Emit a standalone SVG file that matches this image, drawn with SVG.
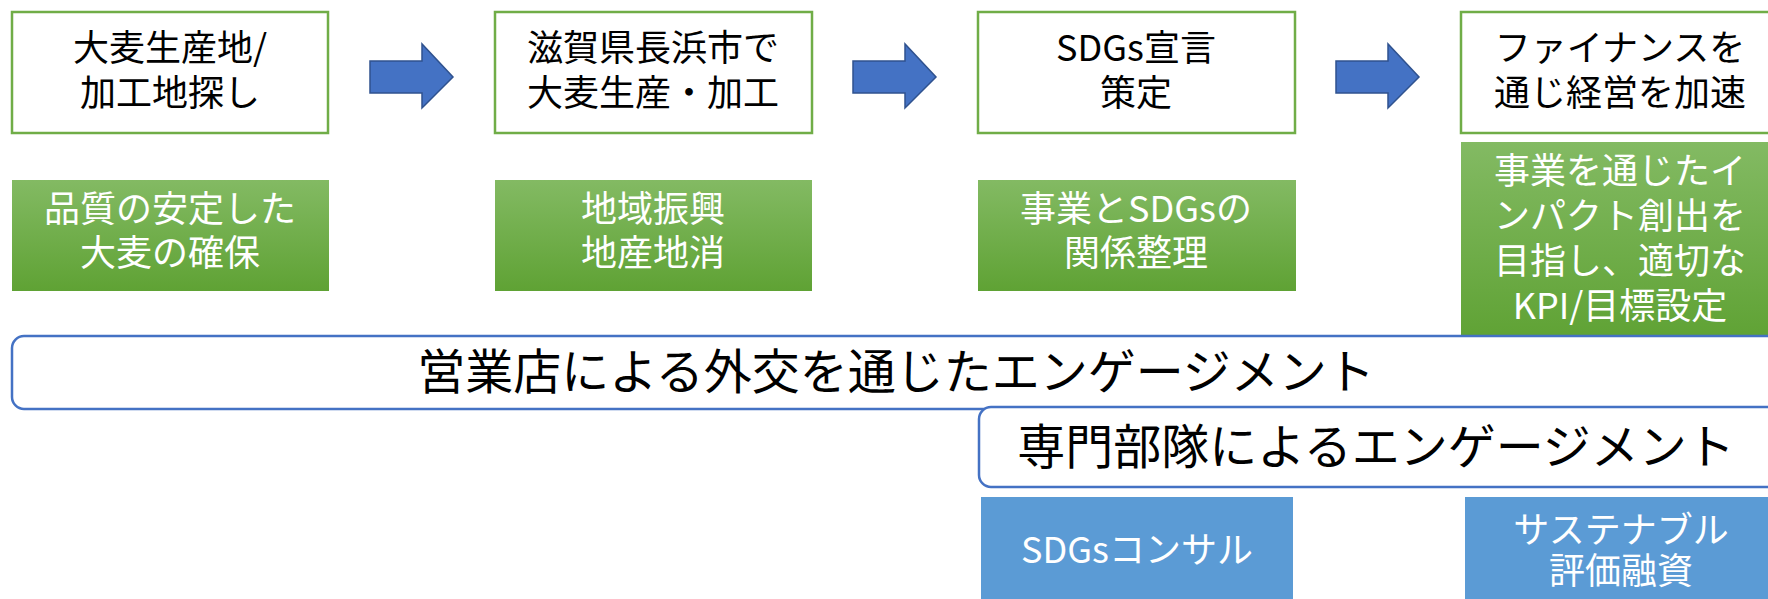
<svg xmlns="http://www.w3.org/2000/svg" width="1768" height="599" viewBox="0 0 1768 599">
<defs>
<linearGradient id="gg" x1="0" y1="0" x2="0" y2="1">
<stop offset="0" stop-color="#83BA63"/>
<stop offset="1" stop-color="#5FA234"/>
</linearGradient>
<style>
.t{font-family:"Noto Sans CJK JP","Noto Sans CJK SC",sans-serif;text-anchor:middle;dominant-baseline:central}
.box{fill:#FFFFFF;stroke:#70AD47;stroke-width:2.5}
.grn{fill:url(#gg)}
.blu{fill:#5B9BD5}
.rr{fill:#FFFFFF;stroke:#4472C4;stroke-width:2.5}
.arr{fill:#4472C4;stroke:#2F528F;stroke-width:1.5}
.dk{fill:#000000;font-size:36px}
.wh{fill:#FFFFFF;font-size:36px}
.big{fill:#000000;font-size:48px}
</style>
</defs>
<rect width="1768" height="599" fill="#FFFFFF"/>

<g id="step1">
<rect class="box" x="12" y="12" width="316" height="121"/>
<text class="t dk" x="170" y="45">大麦生産地/</text>
<text class="t dk" x="170" y="90">加工地探し</text>
</g>
<g id="step2">
<rect class="box" x="495" y="12" width="317" height="121"/>
<text class="t dk" x="653" y="45">滋賀県長浜市で</text>
<text class="t dk" x="653" y="90">大麦生産・加工</text>
</g>
<g id="step3">
<rect class="box" x="978" y="12" width="317" height="121"/>
<text class="t dk" x="1136" y="45">SDGs宣言</text>
<text class="t dk" x="1136" y="90">策定</text>
</g>
<g id="step4">
<rect class="box" x="1461" y="12" width="330" height="121"/>
<text class="t dk" x="1620" y="45">ファイナンスを</text>
<text class="t dk" x="1620" y="90">通じ経営を加速</text>
</g>

<g id="goal1">
<rect class="grn" x="12" y="180" width="317" height="111"/>
<text class="t wh" x="170" y="206">品質の安定した</text>
<text class="t wh" x="170" y="250">大麦の確保</text>
</g>
<g id="goal2">
<rect class="grn" x="495" y="180" width="317" height="111"/>
<text class="t wh" x="653" y="206">地域振興</text>
<text class="t wh" x="653" y="250">地産地消</text>
</g>
<g id="goal3">
<rect class="grn" x="978" y="180" width="318" height="111"/>
<text class="t wh" x="1136" y="206">事業とSDGsの</text>
<text class="t wh" x="1136" y="250">関係整理</text>
</g>
<g id="goal4">
<rect class="grn" x="1461" y="142" width="330" height="199"/>
<text class="t wh" x="1620" y="168">事業を通じたイ</text>
<text class="t wh" x="1620" y="213">ンパクト創出を</text>
<text class="t wh" x="1620" y="258">目指し、適切な</text>
<text class="t wh" x="1620" y="303">KPI/目標設定</text>
</g>

<g id="engagement1">
<rect class="rr" x="12" y="336" width="1800" height="73" rx="12" ry="12"/>
<text class="t big" x="896" y="368">営業店による外交を通じたエンゲージメント</text>
</g>
<g id="engagement2">
<rect class="rr" x="979" y="407" width="820" height="80" rx="12" ry="12"/>
<text class="t big" x="1376" y="443">専門部隊によるエンゲージメント</text>
</g>

<g id="consul">
<rect class="blu" x="981" y="497" width="312" height="110"/>
<text class="t wh" x="1137" y="547">SDGsコンサル</text>
</g>
<g id="sustainable">
<rect class="blu" x="1465" y="497" width="312" height="110"/>
<text class="t wh" x="1621" y="527">サステナブル</text>
<text class="t wh" x="1621" y="568">評価融資</text>
</g>

<g id="connectors">
<polygon class="arr" points="370,61 422,61 422,44 453,77 422,108 422,93 370,93"/>
<polygon class="arr" points="853,61 905,61 905,44 936,77 905,108 905,93 853,93"/>
<polygon class="arr" points="1336,61 1388,61 1388,44 1419,77 1388,108 1388,93 1336,93"/>
</g>
</svg>
